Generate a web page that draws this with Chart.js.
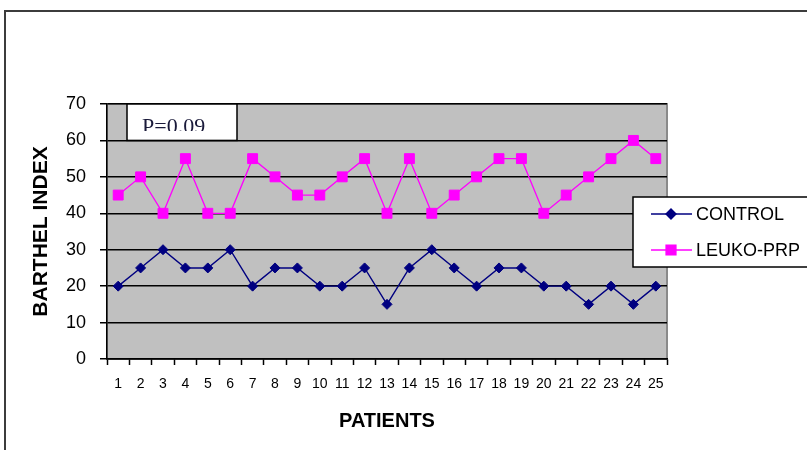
<!DOCTYPE html>
<html>
<head>
<meta charset="utf-8">
<script src="https://cdn.jsdelivr.net/npm/chart.js@4/dist/chart.umd.min.js"></script>
<style>
  html, body { margin: 0; padding: 0; background: #fff; }
  #wrap { width: 807px; height: 450px; position: relative; }
</style>
</head>
<body>
<div id="wrap"><canvas id="c" width="807" height="450"></canvas></div>
<script>
// Barthel index per patient, two groups
const patients = ['1','2','3','4','5','6','7','8','9','10','11','12','13',
                  '14','15','16','17','18','19','20','21','22','23','24','25'];
const control  = [20,25,30,25,25,30,20,25,25,20,20,25,15,25,30,25,20,25,25,20,20,15,20,15,20];
const leukoPrp = [45,50,40,55,40,40,55,50,45,45,50,55,40,55,40,45,50,55,55,40,45,50,55,60,55];
const yMin = 0, yMax = 70, yStep = 10;
const pValueText = 'P=0.09';
const seriesNames = ['CONTROL', 'LEUKO-PRP'];

const NAVY = '#000080';
const MAGENTA = '#FF00FF';

// Grey plot panel, outer frame
const backdrop = {
  id: 'backdrop',
  beforeDraw(chart) {
    const { ctx, chartArea: a } = chart;
    ctx.save();
    ctx.fillStyle = '#fff';
    ctx.fillRect(0, 0, chart.width, chart.height);
    // outer frame (left and top edges visible)
    ctx.strokeStyle = '#3c3c3c';
    ctx.lineWidth = 2;
    ctx.strokeRect(5, 11, chart.width + 20, chart.height + 20);
    // plot area
    ctx.fillStyle = '#C0C0C0';
    ctx.fillRect(a.left, a.top, a.right - a.left, a.bottom - a.top);
    ctx.strokeStyle = '#8a8a8a';
    ctx.lineWidth = 2;
    ctx.strokeRect(a.left, a.top, a.right - a.left, a.bottom - a.top);
    ctx.restore();
  }
};

// P-value box and legend box
const annotations = {
  id: 'annotations',
  afterDraw(chart) {
    const { ctx } = chart;
    const y = chart.scales.y;
    ctx.save();
    // P-value box spans the band between 60 and 70
    const top = y.getPixelForValue(70), bot = y.getPixelForValue(60);
    ctx.fillStyle = '#fff';
    ctx.fillRect(127, top, 110, bot - top);
    ctx.strokeStyle = '#000';
    ctx.lineWidth = 1.5;
    ctx.strokeRect(127, top, 110, bot - top);
    ctx.save();
    ctx.beginPath();
    ctx.rect(128, top + 1, 108, 26);
    ctx.clip();
    ctx.fillStyle = '#1a1a3a';
    ctx.font = '22px "Liberation Serif", "Times New Roman", serif';
    ctx.textBaseline = 'alphabetic';
    ctx.textAlign = 'left';
    ctx.fillText(pValueText, 142, top + 29);
    ctx.restore();

    // legend
    const lx = 633, ly = 197, lh = 70;
    ctx.fillStyle = '#fff';
    ctx.fillRect(lx, ly, chart.width - lx + 10, lh);
    ctx.strokeStyle = '#000';
    ctx.lineWidth = 1.5;
    ctx.strokeRect(lx, ly, chart.width - lx + 10, lh);
    const rows = [214, 250];
    chart.data.datasets.forEach((ds, i) => {
      const yy = rows[i];
      ctx.strokeStyle = ds.borderColor;
      ctx.lineWidth = ds.borderWidth;
      ctx.beginPath();
      ctx.moveTo(651, yy);
      ctx.lineTo(692, yy);
      ctx.stroke();
      ctx.fillStyle = ds.pointBackgroundColor;
      Chart.helpers.drawPoint(ctx, {
        pointStyle: ds.pointStyle, radius: ds.pointRadius, rotation: 0, borderWidth: 1
      }, 671, yy);
      ctx.fillStyle = '#000';
      ctx.font = '18px "Liberation Sans", Arial, sans-serif';
      ctx.textBaseline = 'middle';
      ctx.textAlign = 'left';
      ctx.fillText(ds.label, 696, yy + 1);
    });
    ctx.restore();
  }
};

new Chart(document.getElementById('c'), {
  type: 'line',
  data: {
    labels: patients,
    datasets: [
      {
        label: seriesNames[0],
        data: control,
        borderColor: NAVY,
        backgroundColor: NAVY,
        pointBackgroundColor: NAVY,
        pointBorderColor: NAVY,
        borderWidth: 1.4,
        pointStyle: 'rectRot',
        pointRadius: 5,
        pointBorderWidth: 1,
        tension: 0
      },
      {
        label: seriesNames[1],
        data: leukoPrp,
        borderColor: MAGENTA,
        backgroundColor: MAGENTA,
        pointBackgroundColor: MAGENTA,
        pointBorderColor: MAGENTA,
        borderWidth: 1.3,
        pointStyle: 'rect',
        pointRadius: 7,
        pointBorderWidth: 1,
        tension: 0
      }
    ]
  },
  options: {
    responsive: false,
    animation: false,
    devicePixelRatio: 1,
    layout: { padding: { left: 0, top: 104, right: 140, bottom: 0 } },
    plugins: {
      legend: { display: false },
      tooltip: { enabled: false }
    },
    scales: {
      x: {
        type: 'category',
        offset: true,
        afterFit(scale) { scale.height = 91; },
        grid: {
          display: true,
          offset: true,
          drawOnChartArea: false,
          drawTicks: true,
          tickLength: 6,
          tickColor: '#000',
          tickWidth: 1.5
        },
        border: { display: true, color: '#000', width: 1.5 },
        ticks: {
          autoSkip: false,
          maxRotation: 0,
          minRotation: 0,
          color: '#000',
          padding: 11,
          font: { family: '"Liberation Sans", Arial, sans-serif', size: 14 }
        },
        title: {
          display: true,
          text: 'PATIENTS',
          color: '#000',
          padding: { top: 0, bottom: 17 },
          font: { family: '"Liberation Sans", Arial, sans-serif', size: 20, weight: 'bold', lineHeight: 1.2 }
        }
      },
      y: {
        min: yMin,
        max: yMax,
        afterFit(scale) { scale.width = 107; },
        grid: {
          color: '#000',
          lineWidth: 1.5,
          drawTicks: true,
          tickLength: 7,
          tickColor: '#000'
        },
        border: { display: true, color: '#000', width: 1.5 },
        ticks: {
          stepSize: yStep,
          color: '#000',
          padding: 14,
          font: { family: '"Liberation Sans", Arial, sans-serif', size: 18 }
        },
        title: {
          display: true,
          text: 'BARTHEL INDEX',
          color: '#000',
          padding: { top: 29, bottom: 0 },
          font: { family: '"Liberation Sans", Arial, sans-serif', size: 21, weight: 'bold', lineHeight: 1.2 }
        }
      }
    }
  },
  plugins: [backdrop, annotations]
});
</script>
</body>
</html>
